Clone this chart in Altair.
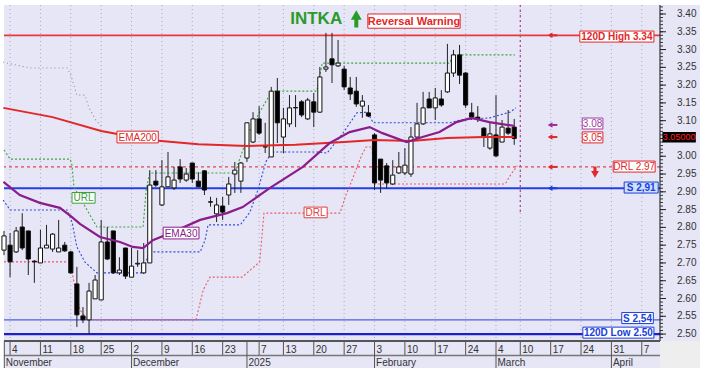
import altair as alt
import pandas as pd

LAV = "#E6E6F6"
FONT = "Liberation Sans"

# ---------------- data ----------------
# trading-day index: 0 = Mon 4 Nov 2024 (Greek market holidays skipped)
idx = list(range(-1, 84))
opens = [2.736, 2.750, 2.731, 2.801, 2.790, 2.705, 2.700, 2.742, 2.739, 2.731,
         2.750, 2.731, 2.641, 2.551, 2.540, 2.599, 2.596, 2.759, 2.790, 2.672,
         2.742, 2.660, 2.697, 2.672, 2.700, 2.930, 2.863, 2.914, 2.911, 2.970,
         2.933, 2.981, 2.930, 2.959, 2.872, 2.838, 2.860, 2.891, 2.950, 2.930,
         2.995, 3.040, 3.105, 3.027, 2.998, 3.183, 3.054, 3.091, 3.137, 3.153,
         3.105, 3.153, 3.124, 3.245, 3.274, 3.254, 3.245, 3.192, 3.183, 3.141,
         3.122, 3.060, 2.992, 2.973, 2.922, 2.953, 2.953, 2.950, 3.054, 3.091,
         3.161, 3.136, 3.161, 3.181, 3.234, 3.285, 3.234, 3.122, 3.110, 3.079,
         3.023, 3.060, 3.040, 3.079, 3.082]
highs = [2.790, 2.784, 2.801, 2.840, 2.790, 2.708, 2.793, 2.807, 2.784, 2.821,
         2.759, 2.734, 2.689, 2.576, 2.644, 2.666, 2.821, 2.801, 2.790, 2.716,
         2.742, 2.742, 2.736, 2.756, 2.961, 2.961, 2.989, 3.012, 2.970, 2.992,
         2.967, 2.981, 2.955, 2.961, 2.886, 2.883, 2.886, 2.942, 2.984, 2.984,
         3.094, 3.124, 3.141, 3.094, 3.195, 3.220, 3.136, 3.172, 3.172, 3.158,
         3.164, 3.178, 3.251, 3.347, 3.347, 3.327, 3.254, 3.223, 3.223, 3.172,
         3.144, 3.065, 2.992, 2.981, 2.989, 3.012, 3.023, 3.082, 3.150, 3.181,
         3.181, 3.192, 3.186, 3.316, 3.299, 3.313, 3.237, 3.150, 3.141, 3.082,
         3.094, 3.172, 3.102, 3.130, 3.105]
lows = [2.722, 2.660, 2.728, 2.736, 2.666, 2.644, 2.700, 2.742, 2.731, 2.731,
        2.731, 2.670, 2.520, 2.531, 2.500, 2.599, 2.596, 2.708, 2.669, 2.666,
        2.655, 2.660, 2.689, 2.669, 2.700, 2.914, 2.860, 2.914, 2.905, 2.925,
        2.928, 2.925, 2.914, 2.891, 2.858, 2.815, 2.821, 2.863, 2.897, 2.897,
        2.984, 3.037, 3.060, 3.009, 2.998, 3.037, 3.009, 3.082, 3.082, 3.110,
        3.102, 3.082, 3.122, 3.237, 3.206, 3.251, 3.186, 3.158, 3.139, 3.108,
        3.110, 2.905, 2.897, 2.908, 2.919, 2.950, 2.947, 2.942, 3.051, 3.088,
        3.136, 3.102, 3.139, 3.178, 3.223, 3.203, 3.136, 3.102, 3.096, 3.026,
        3.018, 2.998, 3.040, 3.060, 3.032]
closes = [2.776, 2.703, 2.790, 2.742, 2.711, 2.703, 2.742, 2.750, 2.781, 2.742,
          2.734, 2.672, 2.554, 2.540, 2.621, 2.652, 2.759, 2.711, 2.672, 2.680,
          2.663, 2.691, 2.699, 2.700, 2.919, 2.919, 2.914, 2.942, 2.933, 2.936,
          2.950, 2.936, 2.914, 2.905, 2.871, 2.863, 2.843, 2.922, 2.961, 2.981,
          3.094, 3.105, 3.065, 3.026, 3.183, 3.094, 3.105, 3.136, 3.136, 3.116,
          3.158, 3.124, 3.223, 3.251, 3.257, 3.262, 3.195, 3.175, 3.147, 3.155,
          3.113, 2.925, 2.933, 2.925, 2.947, 2.970, 2.975, 3.054, 3.091, 3.136,
          3.136, 3.164, 3.144, 3.234, 3.285, 3.228, 3.144, 3.110, 3.105, 3.057,
          3.063, 3.001, 3.082, 3.065, 3.050]

ema200_i = [-1.1, 7, 15, 23, 31, 39, 47, 55, 60, 66, 72, 78, 83]
ema200_p = [3.136, 3.110, 3.071, 3.046, 3.034, 3.029, 3.032, 3.040, 3.046, 3.043, 3.051, 3.054, 3.054]

ema30_i = [-1.1, 1.6, 4.9, 8.2, 10.2, 11.5, 14.8, 18.1, 20.2, 21.9, 23.5, 26.8, 31.3, 35.7,
           38.3, 42.8, 48.2, 52.6, 55.9, 59.2, 61.3, 65.3, 67.9, 70.7, 73.5, 76.0, 78.9, 83.1]
ema30_p = [2.928, 2.891, 2.869, 2.855, 2.829, 2.810, 2.773, 2.759, 2.745, 2.742, 2.764, 2.787,
           2.821, 2.840, 2.857, 2.911, 2.970, 3.037, 3.068, 3.082, 3.065, 3.040, 3.054, 3.068,
           3.096, 3.108, 3.096, 3.085]

drl_i = [-1.0, 9.9, 10.5, 11.5, 12.8, 30.6, 31.8, 32.9, 38.2, 41.1, 41.8, 54.3, 55.3,
         56.3, 57.9, 58.6, 59.6, 59.9, 81.5, 82.5, 83.5]
drl_p = [2.703, 2.703, 2.647, 2.568, 2.540, 2.540, 2.624, 2.660, 2.660, 2.703, 2.840, 2.840,
         2.891, 2.933, 3.004, 3.026, 3.026, 2.922, 2.922, 2.950, 2.973]

url_i = [-1.0, 0, 9.9, 10.2, 10.5, 12.0, 14.3, 21.9, 22.4, 23.0, 37.0, 39.5, 41.5, 43.1,
         50.5, 51.4, 72.4, 72.9, 83.1]
url_p = [3.018, 2.992, 2.992, 2.975, 2.914, 2.869, 2.801, 2.801, 2.905, 2.953, 2.953, 3.074,
         3.136, 3.183, 3.183, 3.262, 3.262, 3.285, 3.285]

band_i = [-1.15, 0, 9.4, 10.2, 11.0, 12.3, 14.3, 21.9, 22.7, 23.5, 31.3, 32.1, 32.6, 37.9,
          39.5, 40.8, 42.1, 43.1, 50.5, 52.2, 54.8, 57.1, 58.8, 59.8, 72.4, 74.1, 79.0, 80.6,
          82.3, 83.3]
band_p = [2.877, 2.849, 2.849, 2.815, 2.745, 2.703, 2.672, 2.672, 2.722, 2.731, 2.731, 2.764,
          2.807, 2.807, 2.843, 2.905, 2.984, 3.012, 3.012, 3.009, 3.065, 3.122, 3.124, 3.094,
          3.094, 3.102, 3.108, 3.116, 3.124, 3.136]

grey_i = [-1.15, 0.3, 3.3, 9.4, 10.0, 11.0, 12.3, 13.0, 14.1, 15.0]
grey_p = [3.265, 3.259, 3.248, 3.248, 3.228, 3.172, 3.172, 3.136, 3.102, 3.085]

level_high, level_low = 3.34, 2.50
level_s1, level_s2, level_drl = 2.91, 2.54, 2.97

week_i = [0, 5, 10, 15, 20, 25, 30, 35, 41, 45, 50, 55, 60, 65, 70, 75, 80, 84, 89, 94, 99, 104]
week_lbl = ["4", "11", "18", "25", "2", "9", "16", "23", "7", "13", "20", "27",
            "3", "10", "17", "24", "4", "10", "17", "24", "31", "7"]
month_i = [-0.95, 20, 39, 60, 80, 99]
month_lbl = ["November", "December", "2025", "February", "March", "April"]

y_ticks = [round(2.50 + 0.05 * k, 2) for k in range(19)]
# the 3.05 label sits under the last-price box in the reference
y_lbl_vals = [v for v in y_ticks if abs(v - 3.05) > 1e-6]
y_tick_lbl = [f"{v:.2f}" for v in y_lbl_vals]
y_minor = [round(2.49 + 0.01 * k, 2) for k in range(94)]

# ---------------- scales ----------------
W, H = 656, 336
xs = alt.Scale(domain=[-1, 107], nice=False, zero=False)
ys = alt.Scale(domain=[2.4805, 3.4253], nice=False, zero=False)


def X(f="i"):
    return alt.X(f"{f}:Q", scale=xs, axis=None)


def Y(f="p"):
    return alt.Y(f"{f}:Q", scale=ys, axis=None)


one = pd.DataFrame({"a": [0]})

# ---------------- backgrounds ----------------
bg_right = alt.Chart(one).mark_rect(color=LAV).encode(
    x=alt.value(W), x2=alt.value(W + 40), y=alt.value(0), y2=alt.value(H))
bg_bottom = alt.Chart(one).mark_rect(color=LAV).encode(
    x=alt.value(0), x2=alt.value(W), y=alt.value(H), y2=alt.value(H + 27))
bg_corner = alt.Chart(one).mark_rect(color="#EEEEEE").encode(
    x=alt.value(W), x2=alt.value(W + 40), y=alt.value(H), y2=alt.value(H + 27))

grid = alt.Chart(pd.DataFrame({"i": week_i})).mark_rule(
    color="#A9A9BC", strokeDash=[1, 3], strokeWidth=1).encode(x=X())
mar_line = alt.Chart(pd.DataFrame({"i": [84], "p1": [3.4253], "p2": [2.835]})).mark_rule(
    color="#B0408F", strokeDash=[2, 3], strokeWidth=1.2).encode(x=X(), y=Y("p1"), y2=alt.Y2("p2:Q"))


def hline(p, color, w, dash=None):
    kw = dict(color=color, strokeWidth=w)
    if dash:
        kw["strokeDash"] = dash
    return alt.Chart(pd.DataFrame({"p": [p]})).mark_rule(**kw).encode(y=Y())


levels = [
    hline(level_s2, "#4E5FE0", 1.2),
    hline(level_drl, "#E04848", 1.1, [3, 3]),
    hline(level_high, "#E8383A", 1.8),
    hline(level_s1, "#2340E6", 2.0),
    hline(level_low, "#2020C8", 2.2),
]


def line(ii, pp, color, w, dash=None):
    d = pd.DataFrame({"i": ii, "p": pp, "k": list(range(len(ii)))})
    kw = dict(color=color, strokeWidth=w)
    if dash:
        kw["strokeDash"] = dash
    return alt.Chart(d).mark_line(**kw).encode(x=X(), y=Y(), order="k:Q")


trails = [
    line(grey_i, grey_p, "#8E8E9E", 1.1, [1, 3]),
    line(url_i, url_p, "#3FA53F", 1.1, [2, 2]),
    line(band_i, band_p, "#3548D8", 1.1, [2, 2]),
    line(drl_i, drl_p, "#EE5A6A", 1.1, [2, 2]),
]

# ---------------- candles ----------------
cd = pd.DataFrame({"i": idx, "o": opens, "h": highs, "l": lows, "c": closes})
wicks = alt.Chart(cd).mark_rule(color="#222222", strokeWidth=1).encode(
    x=X(), y=Y("l"), y2=alt.Y2("h:Q"))
bodies = alt.Chart(cd).transform_calculate(
    x1="datum.i - 0.34", x2="datum.i + 0.34").mark_rect(stroke="#111111", strokeWidth=1).encode(
    x=X("x1"), x2=alt.X2("x2:Q"), y=Y("o"), y2=alt.Y2("c:Q"),
    fill=alt.condition("datum.c >= datum.o", alt.value("white"), alt.value("black")))

emas = [
    line(ema200_i, ema200_p, "#E32626", 2.0),
    line(ema30_i, ema30_p, "#8B1C8B", 2.2),
]

# ---------------- labels ----------------
boxes = pd.DataFrame([
    # text, x1, x2, centre price, half height, colour, fill, size, bold
    ("120D High 3.34", 93.8, 106.0, 3.3365, 0.0155, "#E0282A", "white", 10, True),
    ("S 2,91", 101.1, 106.7, 2.912, 0.0155, "#1B3FD8", "#CFE0FF", 10, True),
    ("S 2,54", 100.7, 105.9, 2.545, 0.0155, "#1B3FD8", "white", 10, True),
    ("120D Low 2.50", 94.3, 106.0, 2.504, 0.0155, "#1B3FD8", "white", 10, True),
    ("3.08", 94.2, 97.6, 3.092, 0.0155, "#A03CA0", "white", 10, False),
    ("3,05", 94.2, 97.6, 3.053, 0.0155, "#E0282A", "white", 10, False),
    ("DRL 2.97", 99.3, 106.2, 2.971, 0.0155, "#E0282A", "white", 10, False),
    ("EMA200", 17.6, 24.4, 3.054, 0.0165, "#E0282A", "white", 10, False),
    ("EMA30", 25.2, 31.1, 2.784, 0.0165, "#8B1C8B", "white", 10, False),
    ("URL", 10.2, 14.0, 2.883, 0.0150, "#3AA03A", "white", 10, False),
    ("DRL", 48.4, 52.2, 2.842, 0.0150, "#E04040", "white", 10, False),
    ("Reversal Warning", 58.9, 74.1, 3.380, 0.0200, "#E0282A", "white", 11, True),
], columns=["t", "x1", "x2", "yc", "hh", "col", "fill", "fs", "bold"])
boxes["lo"] = boxes["yc"] - boxes["hh"]
boxes["hi"] = boxes["yc"] + boxes["hh"]
boxes["xc"] = (boxes["x1"] + boxes["x2"]) / 2

box_rects = alt.Chart(boxes).mark_rect(strokeWidth=1).encode(
    x=X("x1"), x2=alt.X2("x2:Q"), y=Y("lo"), y2=alt.Y2("hi:Q"),
    fill=alt.Fill("fill:N", scale=None), stroke=alt.Stroke("col:N", scale=None))
box_txt_b = alt.Chart(boxes[boxes["bold"]]).mark_text(
    font=FONT, fontWeight="bold", align="center", baseline="middle", dy=0.5).encode(
    x=X("xc"), y=Y("yc"), text="t:N", color=alt.Color("col:N", scale=None),
    size=alt.Size("fs:Q", scale=None))
box_txt_n = alt.Chart(boxes[~boxes["bold"]]).mark_text(
    font=FONT, align="center", baseline="middle", dy=0.5).encode(
    x=X("xc"), y=Y("yc"), text="t:N", color=alt.Color("col:N", scale=None),
    size=alt.Size("fs:Q", scale=None))

title = alt.Chart(pd.DataFrame({"i": [50.4], "p": [3.387], "t": ["INTKA"]})).mark_text(
    font=FONT, fontSize=17, fontWeight="bold", color="#2A9A2A", baseline="middle").encode(
    x=X(), y=Y(), text="t:N")
up_shaft = alt.Chart(pd.DataFrame({"i": [57.0], "a": [3.362], "b": [3.392]})).mark_rule(
    color="#2A9A2A", strokeWidth=4).encode(x=X(), y=Y("a"), y2=alt.Y2("b:Q"))
up_head = alt.Chart(pd.DataFrame({"i": [57.0], "p": [3.397]})).mark_point(
    shape="triangle-up", filled=True, size=120, color="#2A9A2A", opacity=1).encode(x=X(), y=Y())

arr = pd.DataFrame({"p": [3.34, 3.088, 3.054, 2.97, 2.91],
                    "col": ["#E02828", "#9A2F9A", "#E02828", "#E02828", "#1B3FD8"]})
arr["i"] = 88.9
arr["i2"] = 90.1
arr_tail = alt.Chart(arr).mark_rule(strokeWidth=2).encode(
    x=X(), x2=alt.X2("i2:Q"), y=Y(), color=alt.Color("col:N", scale=None))
arr_head = alt.Chart(arr).mark_point(shape="triangle-left", filled=True, size=30, opacity=1).encode(
    x=X(), y=Y(), color=alt.Color("col:N", scale=None))
dn_shaft = alt.Chart(pd.DataFrame({"i": [96.3], "a": [2.955], "b": [2.971]})).mark_rule(
    color="#E02828", strokeWidth=3).encode(x=X(), y=Y("a"), y2=alt.Y2("b:Q"))
dn_head = alt.Chart(pd.DataFrame({"i": [96.3], "p": [2.949]})).mark_point(
    shape="triangle-down", filled=True, size=60, color="#E02828", opacity=1).encode(x=X(), y=Y())

# ---------------- price axis (right, drawn by hand) ----------------
axis_line = alt.Chart(one).mark_rule(color="#111", strokeWidth=1).encode(
    x=alt.value(W), y=alt.value(0), y2=alt.value(H))
minor = alt.Chart(pd.DataFrame({"p": y_minor})).mark_rule(color="#333", strokeWidth=1).encode(
    x=alt.value(W), x2=alt.value(W + 3), y=Y())
major = alt.Chart(pd.DataFrame({"p": y_ticks})).mark_rule(color="#222", strokeWidth=1).encode(
    x=alt.value(W), x2=alt.value(W + 6), y=Y())
tick_lbl = alt.Chart(pd.DataFrame({"p": y_lbl_vals, "t": y_tick_lbl})).mark_text(
    font=FONT, fontSize=10, color="#333", align="left", baseline="middle").encode(
    x=alt.value(W + 17), y=Y(), text="t:N")

last_box = alt.Chart(pd.DataFrame({"i": [107.4], "i2": [112.9], "a": [3.0385], "b": [3.0685]})).mark_rect(
    color="black").encode(x=X(), x2=alt.X2("i2:Q"), y=Y("a"), y2=alt.Y2("b:Q"))
last_txt = alt.Chart(pd.DataFrame({"i": [110.15], "p": [3.0535], "t": ["3.05000"]})).mark_text(
    font=FONT, fontSize=9, color="#FF2020", baseline="middle").encode(x=X(), y=Y(), text="t:N")

# ---------------- date axis (two rows) ----------------
top_line = alt.Chart(one).mark_rule(color="#555", strokeWidth=2).encode(
    x=alt.value(0), x2=alt.value(W), y=alt.value(H))
mid_line = alt.Chart(one).mark_rule(color="#777", strokeWidth=1.5).encode(
    x=alt.value(0), x2=alt.value(W), y=alt.value(H + 14.5))
row1_div = alt.Chart(pd.DataFrame({"i": week_i + [-0.95, 39]})).mark_rule(
    color="#555", strokeWidth=1).encode(x=X(), y=alt.value(H), y2=alt.value(H + 14))
row2_div = alt.Chart(pd.DataFrame({"i": month_i})).mark_rule(
    color="#555", strokeWidth=1).encode(x=X(), y=alt.value(H + 14), y2=alt.value(H + 27))
day_txt = alt.Chart(pd.DataFrame({"i": week_i, "t": week_lbl})).mark_text(
    font=FONT, fontSize=10, color="#333", align="left", baseline="alphabetic", dx=2).encode(
    x=X(), y=alt.value(H + 12), text="t:N")
mon_txt = alt.Chart(pd.DataFrame({"i": month_i, "t": month_lbl})).mark_text(
    font=FONT, fontSize=10, color="#333", align="left", baseline="alphabetic", dx=1.5).encode(
    x=X(), y=alt.value(H + 24.5), text="t:N")

layers = [bg_right, bg_bottom, bg_corner, grid, mar_line] + levels + trails + [wicks, bodies] + emas + [
    box_rects, box_txt_b, box_txt_n, title, up_shaft, up_head, arr_tail, arr_head, dn_shaft, dn_head,
    axis_line, minor, major, tick_lbl, last_box, last_txt,
    top_line, mid_line, row1_div, row2_div, day_txt, mon_txt]

chart = alt.layer(*layers).properties(
    width=W, height=H,
    padding={"left": 4, "top": 5, "right": 46, "bottom": 37},
    autosize=alt.AutoSizeParams(type="none"),
    background="white",
).configure_view(fill=LAV, stroke=None)

chart.save("out.html", embed_options={"renderer": "svg", "actions": False})
